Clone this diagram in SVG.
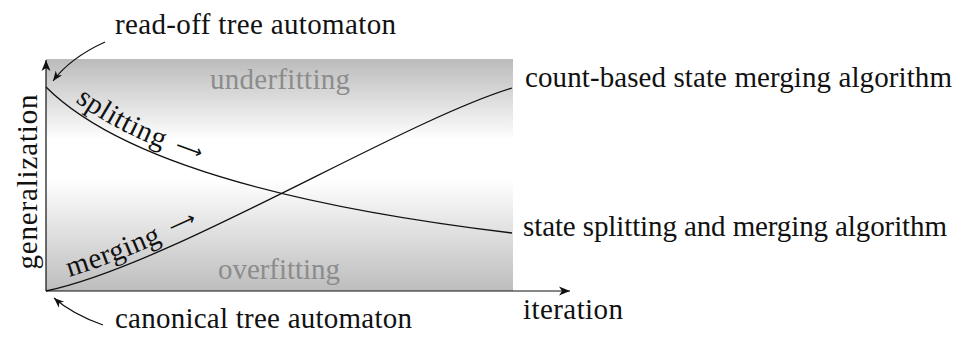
<svg xmlns="http://www.w3.org/2000/svg" xmlns:xlink="http://www.w3.org/1999/xlink" width="968" height="337" viewBox="0 0 968 337">
  <style>
    text { font-family: "Liberation Serif", "Times New Roman", serif; font-size: 29px; fill: #111; }
    .region { fill: #8c8c8c; }
    .to { font-family: "DejaVu Sans", sans-serif; font-size: 19px; }
    .axis { fill: none; stroke: #111; stroke-width: 1.2; marker-end: url(#stealth); }
    .curve { fill: none; stroke: #111; stroke-width: 1.3; }
    .pointer { fill: none; stroke: #111; stroke-width: 1.1; marker-end: url(#stealth-small); }
  </style>
  <defs>
    <linearGradient id="fade" x1="0" y1="0" x2="0" y2="1">
      <stop offset="0" stop-color="#bbbbbb"/>
      <stop offset="0.35" stop-color="#ffffff"/>
      <stop offset="0.52" stop-color="#ffffff"/>
      <stop offset="1" stop-color="#bdbdbd"/>
    </linearGradient>
    <marker id="stealth" viewBox="-12 -5 13 10" refX="0" refY="0" markerWidth="13" markerHeight="10" markerUnits="userSpaceOnUse" orient="auto">
      <path d="M0,0 L-11,-4.5 L-8,0 L-11,4.5 Z" fill="#111"/>
    </marker>
    <marker id="stealth-small" viewBox="-11 -5 12 10" refX="0" refY="0" markerWidth="12" markerHeight="10" markerUnits="userSpaceOnUse" orient="auto">
      <path d="M0,0 L-10,-4 L-7,0 L-10,4 Z" fill="#111"/>
    </marker>
    <!-- baselines for the sloped labels, offset a little above each curve -->
    <path id="split-base" d="M51.7,81.3 C131.7,161.3 313,201 513,225"/>
    <path id="merge-base" d="M44.4,283.2 C168.4,257.2 397.7,114.3 509.7,80.3"/>
  </defs>

  <!-- shaded plot area -->
  <g id="plot-area">
    <rect x="46" y="59" width="467" height="232" fill="url(#fade)"/>
    <text class="region" x="280" y="89" text-anchor="middle" textLength="140" lengthAdjust="spacing">underfitting</text>
    <text class="region" x="279" y="279" text-anchor="middle" textLength="122" lengthAdjust="spacing">overfitting</text>
  </g>

  <!-- axes -->
  <g id="axes">
    <path class="axis" d="M46,291 V60"/>
    <path class="axis" d="M46,291 H570"/>
    <text transform="translate(37,182) rotate(-90)" text-anchor="middle" textLength="175" lengthAdjust="spacing">generalization</text>
    <text x="523" y="319" textLength="100" lengthAdjust="spacing">iteration</text>
  </g>

  <!-- the two algorithm curves -->
  <g id="curves">
    <path id="split-curve" class="curve" d="M46,87 C126,167 312,209 512,233"/>
    <path id="merge-curve" class="curve" d="M46,291 C170,265 400,122 512,88"/>
    <text letter-spacing="0.5"><textPath href="#split-base" xlink:href="#split-base" startOffset="31">splitting <tspan class="to" dx="4" dy="-3">⟶</tspan></textPath></text>
    <text letter-spacing="0.5"><textPath href="#merge-base" xlink:href="#merge-base" startOffset="26">merging <tspan class="to" dx="4" dy="-3">⟶</tspan></textPath></text>
  </g>

  <!-- curve end labels -->
  <g id="label-count-based">
    <text x="525" y="87" textLength="427" lengthAdjust="spacing">count-based state merging algorithm</text>
  </g>
  <g id="label-split-merge">
    <text x="523" y="236" textLength="424" lengthAdjust="spacing">state splitting and merging algorithm</text>
  </g>

  <!-- start point annotations -->
  <g id="label-read-off">
    <text x="115" y="34" textLength="281" lengthAdjust="spacing">read-off tree automaton</text>
  </g>
  <g id="label-canonical">
    <text x="115" y="328" textLength="297" lengthAdjust="spacing">canonical tree automaton</text>
  </g>
  <g id="connectors">
    <path class="pointer" d="M105,42 Q70,58 53,81"/>
    <path class="pointer" d="M103,325 Q72,314 54,298"/>
  </g>
</svg>
